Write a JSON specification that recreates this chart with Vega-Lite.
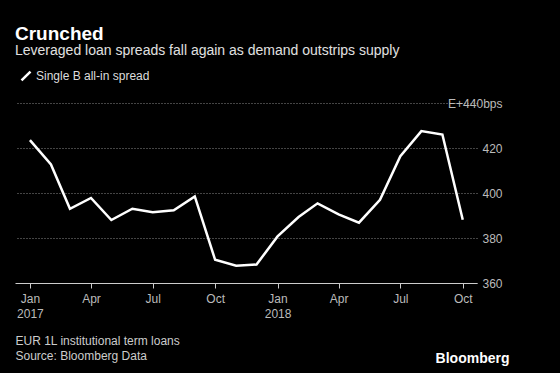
{
  "$schema": "https://vega.github.io/schema/vega-lite/v6.json",
  "autosize": "none",
  "width": 462,
  "height": 180,
  "padding": {"left": 15, "top": 103, "right": 83, "bottom": 90},
  "background": "#000000",
  "title": {
    "text": "Crunched",
    "subtitle": "Leveraged loan spreads fall again as demand outstrips supply",
    "anchor": "start",
    "frame": "group",
    "font": "Liberation Sans",
    "fontSize": 19,
    "fontWeight": "bold",
    "color": "#ffffff",
    "subtitleFont": "Liberation Sans",
    "subtitleFontSize": 14,
    "subtitleColor": "#e0e0e0",
    "subtitlePadding": 0,
    "offset": 12
  },
  "config": {
    "view": {"stroke": null},
    "font": "Liberation Sans"
  },
  "data": {
    "values": [
      {"date": "2017-01-01", "spread": 423.5},
      {"date": "2017-02-01", "spread": 412.7},
      {"date": "2017-03-01", "spread": 393.0},
      {"date": "2017-04-01", "spread": 397.8},
      {"date": "2017-05-01", "spread": 388.0},
      {"date": "2017-06-01", "spread": 393.0},
      {"date": "2017-07-01", "spread": 391.5},
      {"date": "2017-08-01", "spread": 392.3},
      {"date": "2017-09-01", "spread": 398.5},
      {"date": "2017-10-01", "spread": 370.3},
      {"date": "2017-11-01", "spread": 367.7},
      {"date": "2017-12-01", "spread": 368.2},
      {"date": "2018-01-01", "spread": 380.7},
      {"date": "2018-02-01", "spread": 389.3},
      {"date": "2018-03-01", "spread": 395.4},
      {"date": "2018-04-01", "spread": 390.5},
      {"date": "2018-05-01", "spread": 386.8},
      {"date": "2018-06-01", "spread": 397.0},
      {"date": "2018-07-01", "spread": 416.4},
      {"date": "2018-08-01", "spread": 427.5},
      {"date": "2018-09-01", "spread": 426.0},
      {"date": "2018-10-01", "spread": 388.1}
    ]
  },
  "mark": {"type": "line", "strokeWidth": 2.5, "strokeJoin": "miter"},
  "encoding": {
    "x": {
      "field": "date",
      "type": "temporal",
      "scale": {
        "type": "utc",
        "domain": [
          {"year": 2016, "month": 12, "date": 10, "utc": true},
          {"year": 2018, "month": 10, "date": 22, "utc": true}
        ]
      },
      "axis": {
        "values": [
          {"year": 2017, "month": 1, "date": 1, "utc": true},
          {"year": 2017, "month": 4, "date": 1, "utc": true},
          {"year": 2017, "month": 7, "date": 1, "utc": true},
          {"year": 2017, "month": 10, "date": 1, "utc": true},
          {"year": 2018, "month": 1, "date": 1, "utc": true},
          {"year": 2018, "month": 4, "date": 1, "utc": true},
          {"year": 2018, "month": 7, "date": 1, "utc": true},
          {"year": 2018, "month": 10, "date": 1, "utc": true}
        ],
        "labelExpr": "utcFormat(datum.value, '%m') == '01' ? [utcFormat(datum.value, '%b'), utcFormat(datum.value, '%Y')] : utcFormat(datum.value, '%b')",
        "labelFontSize": 12,
        "labelColor": "#bbbbbb",
        "labelPadding": 5,
        "labelLineHeight": 15,
        "labelFlush": false,
        "domain": true,
        "domainColor": "#cccccc",
        "domainWidth": 1,
        "ticks": true,
        "tickColor": "#cccccc",
        "tickSize": 5,
        "grid": false,
        "title": ["EUR 1L institutional term loans", "Source: Bloomberg Data"],
        "titleAngle": 0,
        "titleAlign": "left",
        "titleAnchor": "start",
        "titleBaseline": "top",
        "titleX": 0,
        "titleY": 52,
        "titleFontSize": 12,
        "titleFontWeight": "normal",
        "titleColor": "#cccccc",
        "titleLineHeight": 15
      }
    },
    "y": {
      "field": "spread",
      "type": "quantitative",
      "scale": {"domain": [360, 440], "nice": false, "zero": false},
      "axis": {
        "orient": "right",
        "values": [360, 380, 400, 420, 440],
        "labelExpr": "datum.value == 440 ? 'E+440bps' : datum.label",
        "labelAlign": "right",
        "labelBaseline": "middle",
        "labelPadding": 25,
        "labelFontSize": 12,
        "labelColor": "#bbbbbb",
        "domain": false,
        "ticks": false,
        "grid": true,
        "gridColor": "#888888",
        "gridDash": [1, 2],
        "gridWidth": 1,
        "title": "Bloomberg",
        "titleAngle": 0,
        "titleAlign": "right",
        "titleBaseline": "middle",
        "titleX": 32,
        "titleY": 255,
        "titleFontSize": 14,
        "titleFontWeight": "bold",
        "titleColor": "#ffffff"
      }
    },
    "color": {
      "datum": "Single B all-in spread",
      "type": "nominal",
      "scale": {"range": ["#ffffff"]},
      "legend": {
        "title": null,
        "orient": "none",
        "legendX": 5,
        "legendY": -33,
        "symbolType": "M-1,1L1,-1",
        "symbolStrokeWidth": 2.5,
        "symbolSize": 80,
        "labelFontSize": 12,
        "labelColor": "#dddddd",
        "labelOffset": 4
      }
    }
  }
}
